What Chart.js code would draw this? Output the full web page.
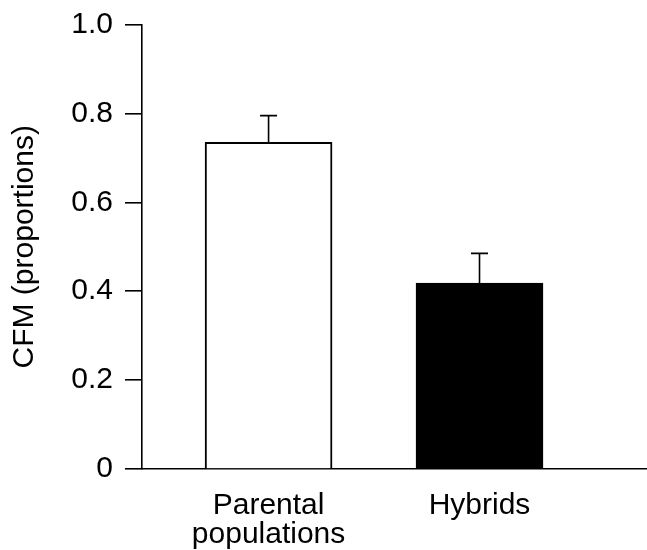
<!DOCTYPE html>
<html>
<head>
<meta charset="utf-8">
<script src="https://cdn.jsdelivr.net/npm/chart.js@4"></script>
<style>
  html, body { margin: 0; padding: 0; background: #fff; }
  #wrap { width: 647px; height: 550px; }
</style>
</head>
<body>
<div id="wrap"><canvas id="cfm-chart"></canvas></div>
<script>
const categories = ['Parental populations', 'Hybrids'];
const cfmMeans = [0.735, 0.418];
const cfmErrors = [0.060, 0.067];
const yTicks = [0, 0.2, 0.4, 0.6, 0.8, 1.0];
const barFills = ['#ffffff', '#000000'];

const font = { family: 'Liberation Sans, Arial, sans-serif', size: 30 };

// one-sided error bars (upper only) with a small cap
const errorBars = {
  id: 'errorBars',
  afterDatasetsDraw(chart) {
    const { ctx, scales: { x, y } } = chart;
    ctx.save();
    ctx.strokeStyle = '#000';
    ctx.lineWidth = 1.6;
    cfmMeans.forEach((m, i) => {
      const px = x.getPixelForValue(i + 1);
      const yTop = y.getPixelForValue(m + cfmErrors[i]);
      const yBar = y.getPixelForValue(m);
      ctx.beginPath();
      ctx.moveTo(px, yBar);
      ctx.lineTo(px, yTop);
      ctx.moveTo(px - 8.5, yTop);
      ctx.lineTo(px + 8.5, yTop);
      ctx.stroke();
    });
    ctx.restore();
  }
};

new Chart(document.getElementById('cfm-chart'), {
  type: 'bar',
  data: {
    datasets: [{
      data: cfmMeans.map((v, i) => ({ x: i + 1, y: v })),
      backgroundColor: barFills,
      borderColor: '#000',
      borderWidth: 2,
      barThickness: 127,
    }]
  },
  options: {
    responsive: true,
    maintainAspectRatio: false,
    animation: false,
    layout: { padding: { top: 24.5, right: 0, left: 0, bottom: 0 } },
    plugins: { legend: { display: false }, tooltip: { enabled: false } },
    scales: {
      x: {
        type: 'linear',
        offset: false,
        min: 0.4,
        max: 2.794,
        grid: { display: false, offset: false },
        border: { display: true, color: '#000', width: 1.6 },
        afterBuildTicks: s => { s.ticks = categories.map((c, i) => ({ value: i + 1 })); },
        afterFit: s => { s.height = 81; s.paddingLeft = 0; s.paddingRight = 0; },
        ticks: {
          autoSkip: false, maxRotation: 0, padding: 14,
          color: '#000', font: { ...font, lineHeight: 0.97 },
          callback: v => categories[v - 1].split(' '),
        }
      },
      y: {
        min: 0,
        max: 1.0,
        grid: { drawOnChartArea: false, drawTicks: true, tickLength: 17, color: '#000', lineWidth: 1.6 },
        border: { display: true, color: '#000', width: 1.6 },
        afterBuildTicks: s => { s.ticks = yTicks.map(v => ({ value: v })); },
        afterFit: s => { s.width = 142; s.paddingTop = 0; s.paddingBottom = 0; },
        ticks: {
          padding: 12, color: '#000', font,
          callback: v => v === 0 ? '0' : v.toFixed(1),
        },
        title: { display: true, text: 'CFM (proportions)', color: '#000', font, padding: { top: 7, bottom: 0 } }
      }
    }
  },
  plugins: [errorBars],
});
</script>
</body>
</html>
